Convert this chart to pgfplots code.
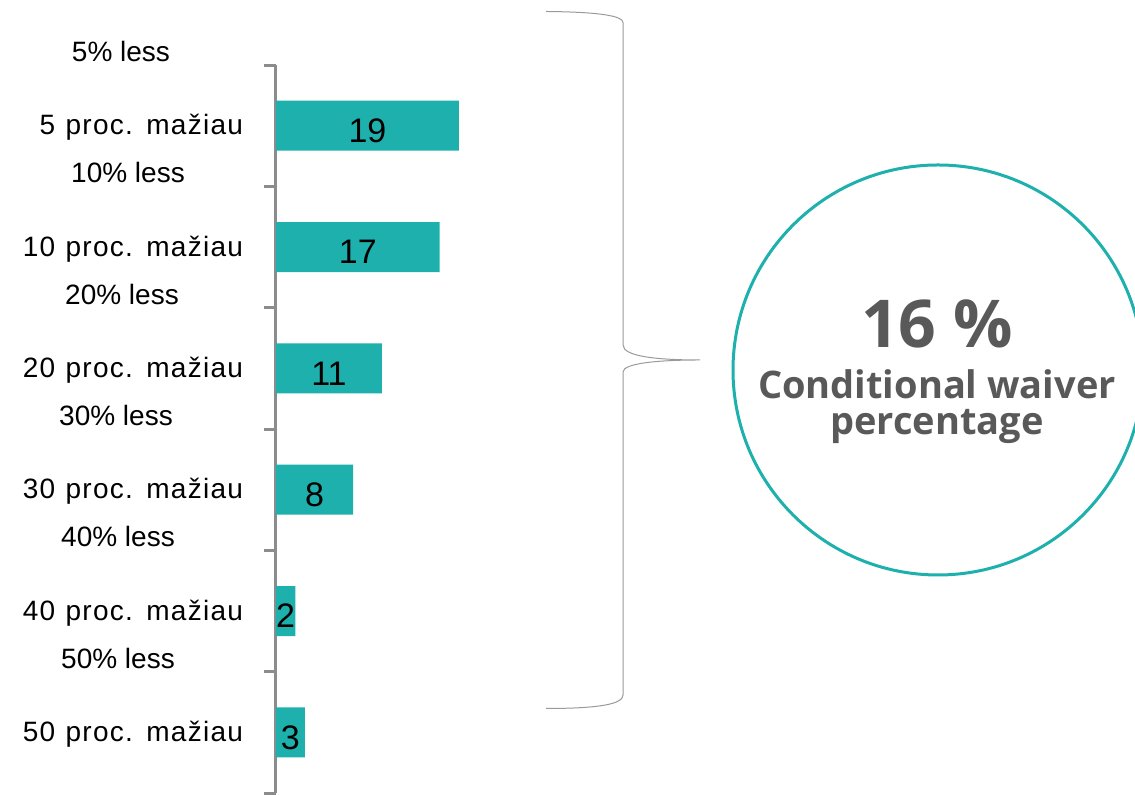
\documentclass[border=0pt]{standalone}
\usepackage{fontspec}
\setmainfont{Liberation Sans}
\newfontfamily\labfont[LetterSpace=4.5,WordSpace=1.15]{Liberation Sans}
\newfontfamily\circfont{Open Sans}
\usepackage{pgfplots}
\pgfplotsset{compat=1.18}
\definecolor{barteal}{HTML}{1DB0AC}
\definecolor{axgray}{HTML}{8C8C8C}
\definecolor{txtgray}{HTML}{595959}
\definecolor{bracegray}{HTML}{9A9A9A}
\begin{document}
\begin{tikzpicture}[x=1pt,y=1pt]
\useasboundingbox (0,0) rectangle (567.5,397.5);
\begin{axis}[
  at={(138pt,1pt)}, anchor=south west,
  scale only axis, width=192.6pt, height=364pt,
  xmin=0, xmax=40, ymin=0.5, ymax=6.5, y dir=reverse,
  axis x line=none, axis y line*=left,
  axis line style={axgray, line width=1.5pt},
  ytick={1,2,3,4,5,6},
  yticklabels={5 proc. mažiau,10 proc. mažiau,20 proc. mažiau,30 proc. mažiau,40 proc. mažiau,50 proc. mažiau},
  major tick length=0pt,
  extra y ticks={0.5,1.5,2.5,3.5,4.5,5.5,6.5},
  extra y tick labels={},
  extra y tick style={major tick length=6pt, tick align=outside},
  every tick/.style={axgray, line width=1.5pt},
  yticklabel style={anchor=base east, font=\labfont\fontsize{14}{14}\selectfont, xshift=-13pt, yshift=-4.5pt},
  clip=false,
]
\addplot[xbar, bar width=25pt, fill=barteal, draw=none]
  coordinates {(19,1) (17,2) (11,3) (8,4) (2,5) (3,6)};
\addplot[only marks, mark=none, nodes near coords, point meta=explicit symbolic,
  every node near coord/.append style={anchor=center, yshift=-2.5pt, font=\fontsize{17}{17}\selectfont, text=black}]
  coordinates {(9.5,1)[19] (8.5,2)[17] (5.5,3)[11] (4,4)[8] (1,5)[2] (1.5,6)[3]};
\node[anchor=base, font=\fontsize{14}{14}\selectfont, xshift=-77.5pt, yshift=32pt] at (axis cs:0,1) {5\% less};
\node[anchor=base, font=\fontsize{14}{14}\selectfont, xshift=-74pt, yshift=32pt] at (axis cs:0,2) {10\% less};
\node[anchor=base, font=\fontsize{14}{14}\selectfont, xshift=-77pt, yshift=32pt] at (axis cs:0,3) {20\% less};
\node[anchor=base, font=\fontsize{14}{14}\selectfont, xshift=-80pt, yshift=32pt] at (axis cs:0,4) {30\% less};
\node[anchor=base, font=\fontsize{14}{14}\selectfont, xshift=-79pt, yshift=32pt] at (axis cs:0,5) {40\% less};
\node[anchor=base, font=\fontsize{14}{14}\selectfont, xshift=-79pt, yshift=32pt] at (axis cs:0,6) {50\% less};
\end{axis}
\draw[bracegray, line width=0.5pt]
  (273,391.75) .. controls (300,391.5) and (311.5,389.5) .. (311.5,386.25)
  -- (311.5,225) .. controls (311.5,219) and (330,217.5) .. (350,217.5)
  .. controls (330,217.5) and (311.5,216) .. (311.5,211.5)
  -- (311.5,50) .. controls (311.5,45.5) and (300,43.25) .. (273,43.25);
\begin{scope}
\clip (0,0) rectangle (567.5,397.5);
\draw[barteal, line width=1.5pt] (469,212.5) circle (102.5);
\end{scope}
\node[anchor=base, text=txtgray, font=\circfont\bfseries\fontsize{33}{33}\selectfont] at (468.5,223.5) {16 \%};
\node[anchor=base, text=txtgray, font=\circfont\bfseries\fontsize{19}{19}\selectfont] at (468.5,198) {Conditional waiver};
\node[anchor=base, text=txtgray, font=\circfont\bfseries\fontsize{19}{19}\selectfont] at (468.5,180) {percentage};
\end{tikzpicture}
\end{document}
